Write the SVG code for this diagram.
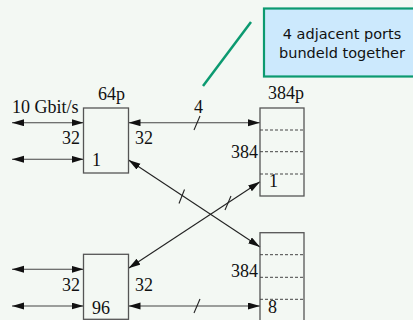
<svg xmlns="http://www.w3.org/2000/svg" width="413" height="320" viewBox="0 0 413 320">
<style>
.bg{fill:#f3f8f3}
.box{fill:none;stroke:#555;stroke-width:1.3}
.dash{stroke:#444;stroke-width:1;stroke-dasharray:3,2}
.t{font-family:"Liberation Serif","Times New Roman",serif;font-size:18px;fill:#111}
.c{stroke:#222;stroke-width:1.1;fill:none}
.hz{stroke:#444;stroke-width:1.1;fill:none}
.tick{stroke:#222;stroke-width:1.1}
.callout{fill:#cce9fd;stroke:#0b9a70;stroke-width:2.2}
.ct{font-family:"DejaVu Sans",Verdana,sans-serif;font-size:14.5px;fill:#111;text-anchor:middle}
</style>
<defs>
<marker id="ah" markerUnits="userSpaceOnUse" markerWidth="13" markerHeight="8" refX="12" refY="3.5" orient="auto-start-reverse">
<path d="M0,0 L12,3.5 L0,7 z" fill="#111"/>
</marker>
</defs>
<rect class="bg" x="0" y="0" width="413" height="320"/>

<g id="callout">
<rect class="callout" x="264" y="8.5" width="160" height="68"/>
<text class="ct" x="342" y="39">4 adjacent ports</text>
<text class="ct" x="342" y="58">bundeld together</text>
<line x1="203" y1="86" x2="251" y2="22" stroke="#0b9a70" stroke-width="2.5"/>
</g>

<g id="connectors">
<line class="hz" x1="12" y1="122.7" x2="83.5" y2="122.7" marker-start="url(#ah)" marker-end="url(#ah)"/>
<line class="hz" x1="12" y1="159.3" x2="83.5" y2="159.3" marker-start="url(#ah)" marker-end="url(#ah)"/>
<line class="hz" x1="128.5" y1="122.7" x2="260" y2="122.7" marker-start="url(#ah)" marker-end="url(#ah)"/>
<line class="tick" x1="194" y1="130" x2="200" y2="116"/>
<line class="c" x1="128.5" y1="160" x2="260" y2="247" marker-start="url(#ah)" marker-end="url(#ah)"/>
<line class="tick" x1="179" y1="203.5" x2="184.5" y2="189.5"/>
<line class="c" x1="128.5" y1="268.3" x2="260" y2="181.7" marker-start="url(#ah)" marker-end="url(#ah)"/>
<line class="tick" x1="225" y1="210" x2="231" y2="196"/>
<line class="hz" x1="12" y1="269.3" x2="83.5" y2="269.3" marker-start="url(#ah)" marker-end="url(#ah)"/>
<line class="hz" x1="12" y1="306" x2="83.5" y2="306" marker-start="url(#ah)" marker-end="url(#ah)"/>
<line class="hz" x1="128.5" y1="306" x2="260" y2="306" marker-start="url(#ah)" marker-end="url(#ah)"/>
<line class="tick" x1="194" y1="313" x2="200" y2="299"/>
</g>

<g id="node-64p">
<rect class="box" x="83.5" y="108" width="45" height="65"/>
<text class="t" x="98" y="100">64p</text>
<text class="t" x="12" y="113">10 Gbit/s</text>
<text class="t" x="62" y="144">32</text>
<text class="t" x="135" y="144">32</text>
<text class="t" x="92" y="166">1</text>
<text class="t" x="194" y="113">4</text>
</g>

<g id="node-384p-top">
<rect class="box" x="260" y="108" width="44" height="88"/>
<line class="dash" x1="260" y1="130" x2="304" y2="130"/>
<line class="dash" x1="260" y1="151.7" x2="304" y2="151.7"/>
<line class="dash" x1="260" y1="174" x2="304" y2="174"/>
<text class="t" x="268" y="99">384p</text>
<text class="t" x="231" y="158">384</text>
<text class="t" x="269" y="187">1</text>
</g>

<g id="node-96">
<rect class="box" x="83.5" y="254.3" width="45" height="65"/>
<text class="t" x="62" y="291">32</text>
<text class="t" x="135" y="291">32</text>
<text class="t" x="92" y="314">96</text>
</g>

<g id="node-384p-bottom">
<rect class="box" x="260" y="232.7" width="44" height="100"/>
<line class="dash" x1="260" y1="254.7" x2="304" y2="254.7"/>
<line class="dash" x1="260" y1="277.3" x2="304" y2="277.3"/>
<line class="dash" x1="260" y1="299.3" x2="304" y2="299.3"/>
<text class="t" x="231" y="277">384</text>
<text class="t" x="268" y="313">8</text>
</g>
</svg>
